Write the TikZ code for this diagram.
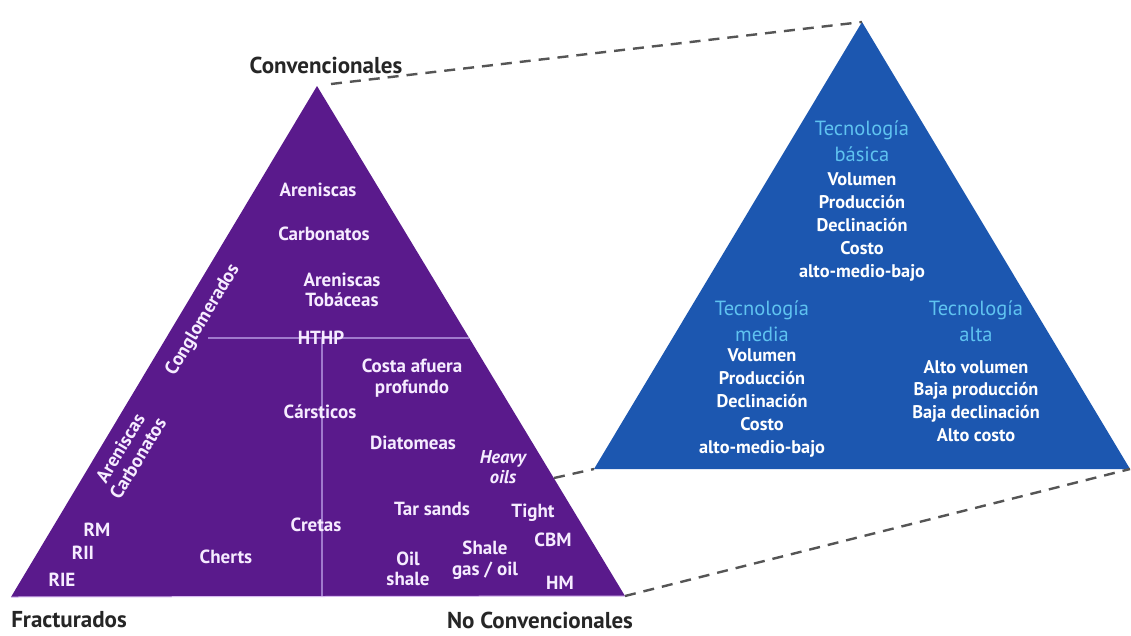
\documentclass[tikz,border=0pt]{standalone}
\usepackage{fontspec}
\setmainfont{PT Sans}
\definecolor{purpleT}{RGB}{90,26,140}
\definecolor{blueT}{RGB}{28,87,176}
\definecolor{lightblueT}{RGB}{95,195,240}
\definecolor{ptextcol}{RGB}{246,236,255}
\definecolor{divcol}{RGB}{160,122,205}
\definecolor{edgecol}{RGB}{215,185,240}
\definecolor{dashcol}{RGB}{85,85,85}
\begin{document}
\begin{tikzpicture}[x=1pt,y=-1pt,
  ptext/.style={text=ptextcol, font=\fontsize{19}{20.5}\selectfont\bfseries, align=center, inner sep=0pt},
  wtext/.style={text=white, font=\fontsize{18.3}{22.8}\selectfont\bfseries, align=center, inner sep=0pt},
  btitle/.style={text=lightblueT, font=\fontsize{20.5}{25.5}\selectfont, align=center, inner sep=0pt},
  corner/.style={text=black!85, font=\fontsize{23}{26}\selectfont\bfseries, inner sep=0pt},
  conn/.style={draw=dashcol, line width=2.4pt, dash pattern=on 11pt off 8pt},
  divline/.style={draw=divcol, line width=1.1pt}
]
\useasboundingbox (0,0) rectangle (1131,635);
\fill[white] (0,0) rectangle (1131,635);

% triangle corners
\coordinate (PA) at (317,86);
\coordinate (PL) at (11,597);
\coordinate (PR) at (625,596);
\coordinate (BA) at (862,22);
\coordinate (BL) at (594,469);
\coordinate (BR) at (1130,469);
\coordinate (PE) at (554,478);
\coordinate (D1) at (331,84);
\coordinate (H1) at (208,338);
\coordinate (H2) at (469,338);
\coordinate (V1) at (322,338);
\coordinate (V2) at (322,596);

% triangles
\fill[purpleT] (PA) -- (PL) -- (PR) -- cycle;
\draw[edgecol, line width=1pt] (PL) -- (PR);
\fill[blueT] (BA) -- (BL) -- (BR) -- cycle;

% dividers
\draw[divline] (H1) -- (H2);
\draw[divline] (V1) -- (V2);

% dashed connectors
\draw[conn] (D1) -- (BA);
\draw[conn] (PE) -- (BL);
\draw[conn] (PR) -- (BR);

% corner labels
\node[corner] (conv) at (326,65) {Convencionales};
\node[corner] (frac) at (69,620) {Fracturados};
\node[corner] (noconv) at (540,620) {No Convencionales};

% purple texts
\node[ptext] (aren) at (318,190) {Areniscas};
\node[ptext] (carb) at (324,234) {Carbonatos};
\node[ptext] (tob) at (342,290) {Areniscas\\Tobáceas};
\node[ptext] (hthp) at (321,338) {HTHP};
\node[ptext, rotate=59] (cong) at (203,320) {Conglomerados};
\node[ptext, rotate=59] (arcar) at (129,453) {Areniscas\\Carbonatos};
\node[ptext] (costa) at (412,378) {Costa afuera\\profundo};
\node[ptext] (cars) at (320,412) {Cársticos};
\node[ptext] (diat) at (413,443) {Diatomeas};
\node[ptext, font=\fontsize{18.5}{20.5}\selectfont\bfseries\itshape] (heavy) at (503,467) {Heavy\\oils};
\node[ptext] (tar) at (432,509) {Tar sands};
\node[ptext] (tight) at (533,513) {Tight};
\node[ptext] (cbm) at (553,540) {CBM};
\node[ptext] (shale) at (485,560) {Shale\\gas / oil};
\node[ptext] (oil) at (408,569) {Oil\\shale};
\node[ptext] (hm) at (560,583) {HM};
\node[ptext] (cretas) at (316,525) {Cretas};
\node[ptext] (cherts) at (226,557) {Cherts};
\node[ptext] (rm) at (97,530) {RM};
\node[ptext] (rii) at (83,553) {RII};
\node[ptext] (rie) at (62,580) {RIE};

% blue texts
\node[btitle] (tb) at (862,141) {Tecnología\\básica};
\node[wtext] (tbl) at (862,227) {Volumen\\Producción\\Declinación\\Costo\\alto-medio-bajo};
\node[btitle] (tm) at (762,321) {Tecnología\\media};
\node[wtext] (tml) at (762,403) {Volumen\\Producción\\Declinación\\Costo\\alto-medio-bajo};
\node[btitle] (ta) at (976,321) {Tecnología\\alta};
\node[wtext] (tal) at (976,401) {Alto volumen\\Baja producción\\Baja declinación\\Alto costo};
\end{tikzpicture}
\end{document}
